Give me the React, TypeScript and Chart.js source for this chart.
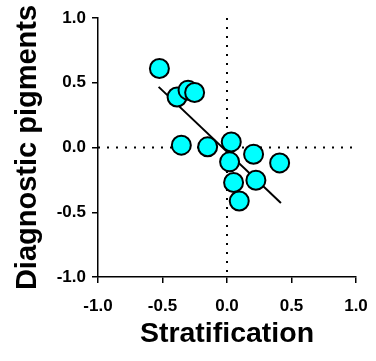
import React, { useEffect, useRef } from "react";
import { Chart, registerables } from "chart.js";

Chart.register(...registerables);

const stratification = [-0.524, -0.387, -0.302, -0.251, -0.354, -0.15, 0.033, 0.206, 0.408, 0.02, 0.051, 0.224, 0.095];
const pigments = [0.61, 0.39, 0.443, 0.425, 0.018, 0.005, 0.043, -0.052, -0.119, -0.111, -0.27, -0.253, -0.413];
const fitX = [-0.53, 0.418];
const fitY = [0.468, -0.428];
const tickValues = [-1, -0.5, 0, 0.5, 1];

const FONT = "'Liberation Sans', Arial, sans-serif";

export default function App() {
  const ref = useRef<HTMLCanvasElement | null>(null);
  useEffect(() => {
    if (!ref.current) return;
    const chart = new Chart(ref.current, {
      type: "scatter",
      data: {
        datasets: [
          {
            data: stratification.map((x, i) => ({ x, y: pigments[i] })),
            backgroundColor: "#00FFFF",
            borderColor: "#000",
            borderWidth: 2,
            pointRadius: 9.5,
            order: 0,
          },
          {
            data: fitX.map((x, i) => ({ x, y: fitY[i] })),
            showLine: true,
            borderColor: "#000",
            borderWidth: 2,
            pointRadius: 0,
            order: 1,
          },
          {
            data: [{ x: 0, y: 1 }, { x: 0, y: -1 }],
            showLine: true,
            borderColor: "#000",
            borderWidth: 2,
            borderDash: [2, 7],
            pointRadius: 0,
            order: 2,
          },
          {
            data: [{ x: -1, y: 0 }, { x: 1, y: 0 }],
            showLine: true,
            borderColor: "#000",
            borderWidth: 2,
            borderDash: [2, 7],
            pointRadius: 0,
            order: 2,
          },
        ],
      },
      options: {
        animation: false,
        responsive: false,
        devicePixelRatio: 1,
        layout: { padding: { top: 18, right: 20, left: 0, bottom: 0 } },
        plugins: { legend: { display: false }, tooltip: { enabled: false } },
        scales: {
          x: {
            type: "linear",
            min: -1,
            max: 1,
            afterFit: (s: any) => { s.height = 84; s.paddingLeft = 0; s.paddingRight = 0; },
            afterBuildTicks: (s: any) => { s.ticks = tickValues.map((v) => ({ value: v })); },
            grid: { drawOnChartArea: false, drawTicks: true, tickLength: 6, color: "#000", lineWidth: 1.5 },
            border: { display: true, color: "#000", width: 1.5 },
            ticks: {
              color: "#000",
              font: { family: FONT, size: 17, weight: "bold" },
              padding: 13,
              maxRotation: 0,
              callback: (v: any) => Number(v).toFixed(1),
            },
            title: {
              display: true,
              text: "Stratification",
              color: "#000",
              font: { family: FONT, size: 28.5, weight: "bold" },
              padding: { top: 0, bottom: 10 },
            },
          },
          y: {
            type: "linear",
            min: -1,
            max: 1,
            afterFit: (s: any) => { s.width = 98; s.paddingTop = 0; s.paddingBottom = 0; },
            afterBuildTicks: (s: any) => { s.ticks = tickValues.map((v) => ({ value: v })); },
            grid: { drawOnChartArea: false, drawTicks: true, tickLength: 6, color: "#000", lineWidth: 1.5 },
            border: { display: true, color: "#000", width: 1.5 },
            ticks: {
              color: "#000",
              font: { family: FONT, size: 17, weight: "bold" },
              padding: 6,
              callback: (v: any) => Number(v).toFixed(1),
            },
            title: {
              display: true,
              text: "Diagnostic pigments",
              color: "#000",
              font: { family: FONT, size: 29, weight: "bold" },
              padding: { top: 11, bottom: 0 },
            },
          },
        },
      },
    });
    return () => chart.destroy();
  }, []);
  return (
    <div style={{ position: "absolute", left: 0, top: 0, width: 376, height: 361, background: "#fff" }}>
      <canvas ref={ref} width={376} height={361} style={{ display: "block" }} />
    </div>
  );
}
